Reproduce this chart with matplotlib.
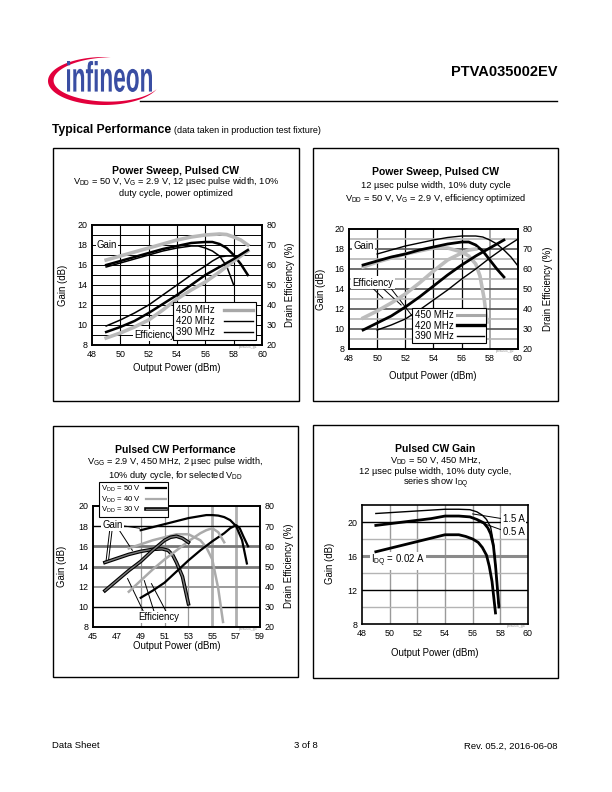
import numpy as np
import matplotlib
matplotlib.use('Agg')
import matplotlib.pyplot as plt
from matplotlib.patches import Rectangle, Polygon, PathPatch
from matplotlib.textpath import TextPath
from matplotlib.font_manager import FontProperties
from matplotlib.transforms import Affine2D
from matplotlib.lines import Line2D
import matplotlib.patheffects as pe

plt.rcParams['font.family'] = ['Liberation Sans', 'DejaVu Sans']
plt.rcParams['mathtext.fontset'] = 'custom'
plt.rcParams['mathtext.rm'] = 'Liberation Sans'
plt.rcParams['mathtext.it'] = 'Liberation Sans:italic'
plt.rcParams['mathtext.bf'] = 'Liberation Sans:bold'

# ---------------- data ----------------
# Chart 1: power sweep, power optimized (x = output power dBm)
c1_g450_x = [49, 50, 51, 52, 53, 54, 55, 56, 57, 57.5, 58, 58.5, 59]
c1_g450 = [16.5, 16.9, 17.3, 17.7, 18.1, 18.5, 18.8, 19.0, 19.1, 19.05, 18.8, 18.5, 18.0]
c1_e450_x = [49, 50, 51, 52, 53, 54, 55, 56, 57, 58, 59]
c1_e450 = [23.5, 26, 29, 32.5, 37.5, 43, 47.5, 51.5, 56.5, 62, 67]
c1_g420_x = [49, 50, 51, 52, 53, 54, 55, 55.5, 56, 56.5, 57, 57.5, 58]
c1_g420 = [15.8, 16.2, 16.6, 17.0, 17.4, 17.7, 17.9, 17.9, 17.7, 17.4, 16.9, 15.9, 14.0]
c1_e420_x = [49, 50, 51, 52, 53, 54, 55, 56, 56.5, 57, 57.5, 58]
c1_e420 = [29.5, 32.5, 36, 40, 45, 50, 55, 59.5, 62, 64, 64.5, 64.5]
c1_g390_x = [49, 50, 51, 52, 53, 54, 55, 56, 56.5, 57, 57.5, 58, 58.5, 59]
c1_g390 = [16.0, 16.4, 16.8, 17.2, 17.6, 17.9, 18.2, 18.3, 18.3, 18.1, 17.7, 17.0, 16.1, 15.0]
c1_e390_x = [49, 50, 51, 52, 53, 54, 55, 56, 57, 58, 59]
c1_e390 = [26.5, 29, 32, 36, 40.5, 45, 50, 55, 59, 63, 67.5]

# Chart 2: power sweep, efficiency optimized
c2_g450_x = [49, 50, 51, 52, 53, 54, 55, 56, 56.5, 57, 57.3, 57.6, 57.8]
c2_g450 = [16.2, 16.7, 17.1, 17.5, 17.8, 18.1, 18.1, 17.7, 17.3, 16.5, 15.3, 13.0, 10.7]
c2_e450_x = [49, 50, 51, 52, 53, 54, 55, 56, 56.5, 57]
c2_e450 = [35.5, 39, 43, 47.5, 53, 59, 64.5, 68, 69.5, 70]
c2_g420_x = [49, 50, 51, 52, 53, 54, 55, 56, 56.5, 57, 57.5, 58, 58.5, 59]
c2_g420 = [16.4, 16.8, 17.2, 17.5, 17.9, 18.2, 18.5, 18.7, 18.7, 18.4, 17.8, 16.9, 16.0, 15.2]
c2_e420_x = [49, 50, 51, 52, 53, 54, 55, 56, 57, 58, 59]
c2_e420 = [29.5, 33, 36.5, 41, 46, 51.5, 57, 62, 66.5, 70.5, 74.5]
c2_g390_x = [50, 51, 52, 53, 54, 55, 56, 57, 57.5, 58, 58.5, 59, 59.5, 60]
c2_g390 = [17.5, 17.9, 18.3, 18.6, 18.9, 19.15, 19.3, 19.3, 19.2, 18.9, 18.5, 17.9, 17.2, 16.3]
c2_e390_x = [50, 51, 52, 53, 54, 55, 56, 57, 58, 59, 60]
c2_e390 = [29.5, 32, 35, 39.5, 44.5, 49.5, 55, 60, 65.5, 70.5, 75]

# Chart 3: pulsed CW performance vs VDD
c3_g50_x = [49, 50, 51, 52, 53, 54, 54.5, 55, 55.5, 56, 56.5, 57, 57.5, 57.9]
c3_g50 = [17.6, 17.9, 18.2, 18.5, 18.8, 19.0, 19.1, 19.1, 19.05, 18.9, 18.6, 18.0, 16.6, 14.3]
c3_e50_x = [49, 50, 51, 52, 53, 54, 55, 56, 56.5, 57, 57.3, 57.6, 58]
c3_e50 = [34.5, 38, 42, 47.5, 53, 58, 62.5, 66.5, 69, 70.5, 69, 65, 60]
c3_g40_x = [48, 49, 50, 51, 52, 53, 54, 54.5, 55, 55.5, 55.9]
c3_g40 = [15.8, 16.2, 16.6, 16.9, 17.2, 17.2, 16.6, 15.9, 14.7, 11.8, 8.5]
c3_e40_x = [48, 49, 50, 51, 52, 53, 54, 54.5, 55, 55.5, 56]
c3_e40 = [37.5, 43, 48.5, 53.5, 58, 62.5, 66.5, 68, 69, 67, 62]
c3_g30_x = [46, 47, 48, 49, 50, 50.8, 51.3, 51.7, 52, 52.5, 53]
c3_g30 = [14.4, 14.8, 15.2, 15.5, 15.7, 15.75, 15.6, 15.1, 14.4, 13.0, 10.3]
c3_e30_x = [46, 47, 48, 49, 50, 51, 51.5, 52, 52.5, 53]
c3_e30 = [38, 43, 48, 52.5, 58, 63, 64.5, 65, 64, 62]

# Chart 4: pulsed CW gain vs IDQ
c4_x15 = [49, 50, 51, 52, 53, 54, 55, 55.8, 56.3, 56.7, 57, 57.3, 57.5, 57.65, 57.85]
c4_g15 = [21.0, 21.1, 21.2, 21.3, 21.4, 21.5, 21.5, 21.45, 21.2, 20.8, 20.3, 19.4, 17.6, 14.9, 10.4]
c4_x05 = [49, 50, 51, 52, 53, 54, 55, 55.8, 56.3, 56.8, 57.1, 57.3, 57.5, 57.65, 57.9]
c4_g05 = [19.6, 19.8, 20.0, 20.2, 20.4, 20.7, 20.7, 20.6, 20.3, 19.9, 19.3, 18.6, 17.2, 14.9, 10.0]
c4_x002 = [49, 50, 51, 52, 53, 54, 55, 55.5, 56, 56.4, 56.7, 57, 57.2, 57.4, 57.65]
c4_g002 = [16.5, 16.9, 17.3, 17.7, 18.1, 18.5, 18.5, 18.3, 18.0, 17.6, 17.0, 16.1, 14.8, 13.0, 9.3]

# ---------------- page ----------------
W, H = 612, 792
fig = plt.figure(figsize=(6.12, 7.92), dpi=100)
page = fig.add_axes([0, 0, 1, 1], zorder=0)
page.set_xlim(0, W)
page.set_ylim(H, 0)
page.axis('off')


def px_axes(l, t, r, b):
    return fig.add_axes([l / W, 1 - b / H, (r - l) / W, (b - t) / H], zorder=2)


# logo swoosh
cx, cy, a, b = 104, 81, 56, 24
t = np.linspace(-1.45, -2 * np.pi + 0.35, 200)
s = (t - t[0]) / (t[-1] - t[0])
w = 6.0 * np.sin(np.pi * s) ** 0.9
outer = np.column_stack([cx + a * np.cos(t), cy + b * np.sin(t)])
inner = np.column_stack([cx + (a - w) * np.cos(t), cy + (b - w * 0.75) * np.sin(t)])
page.add_patch(Polygon(np.vstack([outer, inner[::-1]]), closed=True, fc='#e2003c', ec='none'))
tp = TextPath((0, 0), 'infineon', size=40, prop=FontProperties(family='Liberation Sans', weight='bold'))
ext = tp.get_extents()
x0, x1, ytop, ybot = 67, 152, 61, 92
tr = Affine2D().translate(-ext.x0, -ext.y0).scale((x1 - x0) / ext.width, -(ybot - ytop) / ext.height).translate(x0, ybot)
page.add_patch(PathPatch(tr.transform_path(tp), fc='#3a4ea3', ec='none'))

page.text(557, 72, 'PTVA035002EV', ha='right', va='center', fontsize=10.5, fontweight='bold')
page.plot([140, 557], [101, 101], color='black', lw=1.0)
page.text(52, 130, 'Typical Performance', ha='left', va='center', fontsize=8.7, fontweight='bold')
page.text(174, 130.5, '(data taken in production test fixture)', ha='left', va='center', fontsize=6.5)

for (l, tt, r, bb) in [(53, 148, 299, 401), (313, 148, 558, 401), (53, 426, 298, 677), (313, 425, 558, 678)]:
    page.add_patch(Rectangle((l, tt), r - l, bb - tt, fill=False, ec='black', lw=1.0))

page.text(52, 746, 'Data Sheet', ha='left', va='center', fontsize=6.8)
page.text(306, 746, '3 of 8', ha='center', va='center', fontsize=6.8)
page.text(558, 746, 'Rev. 05.2, 2016-06-08', ha='right', va='center', fontsize=6.8)

TS, SS, LS, KS = 7.5, 6.7, 6.9, 6.4  # title, subtitle, axis-label, tick sizes


def style(ax, xlim, xticks, ylim, yticks):
    ax.set_xlim(*xlim)
    ax.set_ylim(*ylim)
    ax.set_xticks(xticks)
    ax.set_yticks(yticks)
    ax.tick_params(length=0, pad=3.5, labelsize=KS)
    for sp in ax.spines.values():
        sp.set_linewidth(1.2)


def twin(ax):
    ax2 = ax.twinx()
    ax2.set_ylim(20, 80)
    ax2.set_yticks(range(20, 81, 10))
    ax2.tick_params(length=0, pad=3.5, labelsize=KS)
    for sp in ax2.spines.values():
        sp.set_linewidth(1.2)
    return ax2


def lbl(ax, x, y, s, **kw):
    ax.text(x, y, s, ha='center', va='center', fontsize=LS, zorder=2.5,
            bbox=dict(fc='white', ec='none', pad=0.8), **kw)


# ---------------- chart 1 ----------------
cxm = (53 + 299) / 2
page.text(cxm, 171, 'Power Sweep, Pulsed CW', ha='center', va='center', fontsize=TS, fontweight='bold')
page.text(cxm, 182, r'V$_{\rm DD}$ = 50 V, V$_{\rm G}$ = 2.9 V, 12 µsec pulse width, 10%', ha='center', va='center', fontsize=SS)
page.text(cxm, 193, 'duty cycle, power optimized', ha='center', va='center', fontsize=SS)
ax = px_axes(92, 225, 262, 345)
style(ax, (48, 60), range(48, 61, 2), (8, 20), range(8, 21, 2))
for v in range(50, 60, 2):
    ax.axvline(v, color='black', lw=0.8, zorder=0.5)
for v in range(9, 20):
    ax.axhline(v, color='black', lw=0.7, zorder=0.5)
lbl(ax, 49.05, 18.0, 'Gain')
lbl(ax, 52.4, 9.0, 'Efficiency')
ax.plot(c1_g450_x, c1_g450, color='#b9b9b9', lw=2.6, zorder=3)
ax.plot(c1_g420_x, c1_g420, color='black', lw=1.1, zorder=3)
ax.plot(c1_g390_x, c1_g390, color='black', lw=1.8, zorder=3)
ax2 = twin(ax)
ax2.plot(c1_e450_x, c1_e450, color='#b9b9b9', lw=2.6, zorder=3)
ax2.plot(c1_e420_x, c1_e420, color='black', lw=1.1, zorder=3)
ax2.plot(c1_e390_x, c1_e390, color='black', lw=1.8, zorder=3)
h = [Line2D([], [], color='#a8a8a8', lw=2.4), Line2D([], [], color='black', lw=1.0), Line2D([], [], color='black', lw=1.0)]
lg = ax2.legend(h, ['450 MHz', '420 MHz', '390 MHz'], loc='lower right', bbox_to_anchor=(0.967, 0.042),
                markerfirst=False, fontsize=7, frameon=True, fancybox=False, framealpha=1, edgecolor='black',
                borderpad=0.3, labelspacing=0.1, handlelength=3.0, handletextpad=1.0, borderaxespad=0)
lg.get_frame().set_linewidth(0.8)
lg.set_zorder(10)
page.text(248, 347, 'ptva035_g1', fontsize=2.5, color='#888888', ha='center', va='center')
page.text(63, 285, 'Gain (dB)', rotation=90, ha='center', va='center', fontsize=LS)
page.text(290, 285, 'Drain Efficiency (%)', rotation=90, ha='center', va='center', fontsize=LS)
page.text(177, 368, 'Output Power (dBm)', ha='center', va='center', fontsize=LS)

# ---------------- chart 2 ----------------
cxm = (313 + 558) / 2
page.text(cxm, 172, 'Power Sweep, Pulsed CW', ha='center', va='center', fontsize=TS, fontweight='bold')
page.text(cxm, 186, '12 µsec pulse width, 10% duty cycle', ha='center', va='center', fontsize=SS)
page.text(cxm, 198.5, r'V$_{\rm DD}$ = 50 V, V$_{\rm G}$ = 2.9 V, efficiency optimized', ha='center', va='center', fontsize=SS)
ax = px_axes(349, 229, 518, 349)
style(ax, (48, 60), range(48, 61, 2), (8, 20), range(8, 21, 2))
for v in range(50, 57, 2):
    ax.axvline(v, color='black', lw=0.9, zorder=0.5)
ax.axvline(58, color='#9a9a9a', lw=1.2, zorder=0.5)
for v in range(9, 20):
    if v % 2:
        ax.axhline(v, color='#b4b4b4', lw=1.2, zorder=0.5)
    else:
        ax.axhline(v, color='#555555', lw=1.2, zorder=0.5)
lbl(ax, 49.05, 18.3, 'Gain')
lbl(ax, 49.7, 14.65, 'Efficiency')
for (xa, ya, xb, yb) in [(49.6, 14.2, 50.4, 13.1), (50.3, 14.2, 51.7, 12.4), (50.9, 14.2, 52.6, 11.1)]:
    ax.plot([xa, xb], [ya, yb], color='black', lw=0.7, zorder=2)
ax.plot(c2_g450_x, c2_g450, color='#bdbdbd', lw=2.6, zorder=3)
ax.plot(c2_g420_x, c2_g420, color='black', lw=2.0, zorder=3)
ax.plot(c2_g390_x, c2_g390, color='black', lw=1.0, zorder=3)
ax2 = twin(ax)
ax2.plot(c2_e450_x, c2_e450, color='#bdbdbd', lw=2.6, zorder=3)
ax2.plot(c2_e420_x, c2_e420, color='black', lw=2.0, zorder=3)
ax2.plot(c2_e390_x, c2_e390, color='black', lw=1.0, zorder=3)
h = [Line2D([], [], color='#a8a8a8', lw=2.2), Line2D([], [], color='black', lw=2.4), Line2D([], [], color='black', lw=1.0)]
lg = ax2.legend(h, ['450 MHz', '420 MHz', '390 MHz'], loc='lower left', bbox_to_anchor=(0.375, 0.046),
                markerfirst=False, fontsize=7, frameon=True, fancybox=False, framealpha=1, edgecolor='black',
                borderpad=0.25, labelspacing=0.05, handlelength=2.8, handletextpad=0.3, borderaxespad=0)
lg.get_frame().set_linewidth(0.8)
page.text(505, 351, 'ptva035_g2', fontsize=2.5, color='#888888', ha='center', va='center')
page.text(321, 289, 'Gain (dB)', rotation=90, ha='center', va='center', fontsize=LS)
page.text(548, 289, 'Drain Efficiency (%)', rotation=90, ha='center', va='center', fontsize=LS)
page.text(433, 376, 'Output Power (dBm)', ha='center', va='center', fontsize=LS)

# ---------------- chart 3 ----------------
cxm = (53 + 298) / 2
page.text(cxm, 450, 'Pulsed CW Performance', ha='center', va='center', fontsize=TS, fontweight='bold')
page.text(cxm, 462, r'V$_{\rm GG}$ = 2.9 V, 450 MHz, 2 µsec pulse width,', ha='center', va='center', fontsize=SS)
page.text(cxm, 475, r'10% duty cycle, for selected V$_{\rm DD}$', ha='center', va='center', fontsize=SS)
ax = px_axes(93, 506, 260, 627)
style(ax, (45, 59), range(45, 60, 2), (8, 20), range(8, 21, 2))
for v, c, lw in [(49, '#9a9a9a', 0.9), (51, '#9a9a9a', 0.9), (53, '#9a9a9a', 0.9), (55, '#b0b0b0', 2.0), (57, '#b0b0b0', 2.0)]:
    ax.axvline(v, color=c, lw=lw, zorder=0.5)
for v, c, lw in [(10, 'black', 1.0), (12, '#9a9a9a', 1.4), (14, '#777777', 2.0), (16, '#777777', 2.0), (18, 'black', 1.0)]:
    ax.axhline(v, color=c, lw=lw, zorder=0.5)
lbl(ax, 46.65, 18.1, 'Gain')
lbl(ax, 50.5, 9.0, 'Efficiency')
for (xa, ya, xb, yb) in [(47.4, 18.05, 48.9, 17.8), (46.4, 17.6, 46.1, 14.6), (46.6, 17.6, 46.3, 14.6),
                         (47.2, 17.6, 48.3, 15.6), (49.2, 9.6, 47.9, 12.8), (50.1, 9.6, 49.3, 12.6), (51.1, 9.6, 49.9, 12.3)]:
    ax.plot([xa, xb], [ya, yb], color='black', lw=0.7, zorder=2)
ax.plot(c3_g50_x, c3_g50, color='black', lw=1.6, zorder=3)
ax.plot(c3_g40_x, c3_g40, color='#ababab', lw=1.8, zorder=3)
ax.plot(c3_g30_x, c3_g30, color='#7a7a7a', lw=1.0, zorder=3,
        path_effects=[pe.Stroke(linewidth=2.6, foreground='black'), pe.Normal()])
ax2 = twin(ax)
ax2.plot(c3_e50_x, c3_e50, color='black', lw=1.6, zorder=3)
ax2.plot(c3_e40_x, c3_e40, color='#ababab', lw=1.8, zorder=3)
ax2.plot(c3_e30_x, c3_e30, color='#7a7a7a', lw=1.0, zorder=3,
         path_effects=[pe.Stroke(linewidth=2.6, foreground='black'), pe.Normal()])
h = [Line2D([], [], color='black', lw=1.6), Line2D([], [], color='#ababab', lw=1.6),
     Line2D([], [], color='#7a7a7a', lw=1.0, path_effects=[pe.Stroke(linewidth=2.6, foreground='black'), pe.Normal()])]
lg = ax2.legend(h, [r'V$_{\rm DD}$ = 50 V', r'V$_{\rm DD}$ = 40 V', r'V$_{\rm DD}$ = 30 V'], loc='upper left',
                bbox_to_anchor=(0.036, 1.198), markerfirst=False, fontsize=5.6, frameon=True, fancybox=False,
                framealpha=1, edgecolor='black', borderpad=0.25, labelspacing=0.05, handlelength=2.6,
                handletextpad=0.6, borderaxespad=0)
lg.get_frame().set_linewidth(0.8)
page.text(248, 629, 'ptva035_g3', fontsize=2.5, color='#888888', ha='center', va='center')
page.text(62, 566, 'Gain (dB)', rotation=90, ha='center', va='center', fontsize=LS)
page.text(289, 566, 'Drain Efficiency (%)', rotation=90, ha='center', va='center', fontsize=LS)
page.text(177, 646, 'Output Power (dBm)', ha='center', va='center', fontsize=LS)

# ---------------- chart 4 ----------------
cxm = (313 + 558) / 2
page.text(cxm, 449, 'Pulsed CW Gain', ha='center', va='center', fontsize=TS, fontweight='bold')
page.text(cxm, 460, r'V$_{\rm DD}$ = 50 V, 450 MHz,', ha='center', va='center', fontsize=SS)
page.text(cxm, 471.5, '12 µsec pulse width, 10% duty cycle,', ha='center', va='center', fontsize=SS)
page.text(cxm, 483, r'series show I$_{\rm DQ}$', ha='center', va='center', fontsize=SS)
ax = px_axes(362, 505, 528, 624)
style(ax, (48, 60), range(48, 61, 2), (8, 22), range(8, 21, 4))
for v in range(50, 59, 2):
    ax.axvline(v, color='#9a9a9a', lw=1.0, zorder=0.5)
for v, c, lw in [(10, '#b4b4b4', 1.0), (12, 'black', 1.0), (14, '#b4b4b4', 1.0), (16, '#8a8a8a', 2.2),
                 (18, '#b4b4b4', 1.0), (20, 'black', 1.0)]:
    ax.axhline(v, color=c, lw=lw, zorder=0.5)
lbl(ax, 58.95, 20.3, '1.5 A')
lbl(ax, 58.95, 18.8, '0.5 A')
lbl(ax, 50.6, 15.4, r'I$_{\rm DQ}$ = 0.02 A')
ax.plot([56.0, 58.3], [20.95, 20.35], color='black', lw=0.7, zorder=2)
ax.plot([56.4, 58.3], [20.05, 18.95], color='black', lw=0.7, zorder=2)
ax.plot(c4_x15, c4_g15, color='black', lw=1.0, zorder=3)
ax.plot(c4_x05, c4_g05, color='black', lw=2.0, zorder=3)
ax.plot(c4_x002, c4_g002, color='black', lw=2.0, zorder=3)
page.text(516, 626, 'ptva035_g4', fontsize=2.5, color='#888888', ha='center', va='center')
page.text(330, 563, 'Gain (dB)', rotation=90, ha='center', va='center', fontsize=LS)
page.text(435, 653, 'Output Power (dBm)', ha='center', va='center', fontsize=LS)

fig.savefig('out.png', dpi=100)
